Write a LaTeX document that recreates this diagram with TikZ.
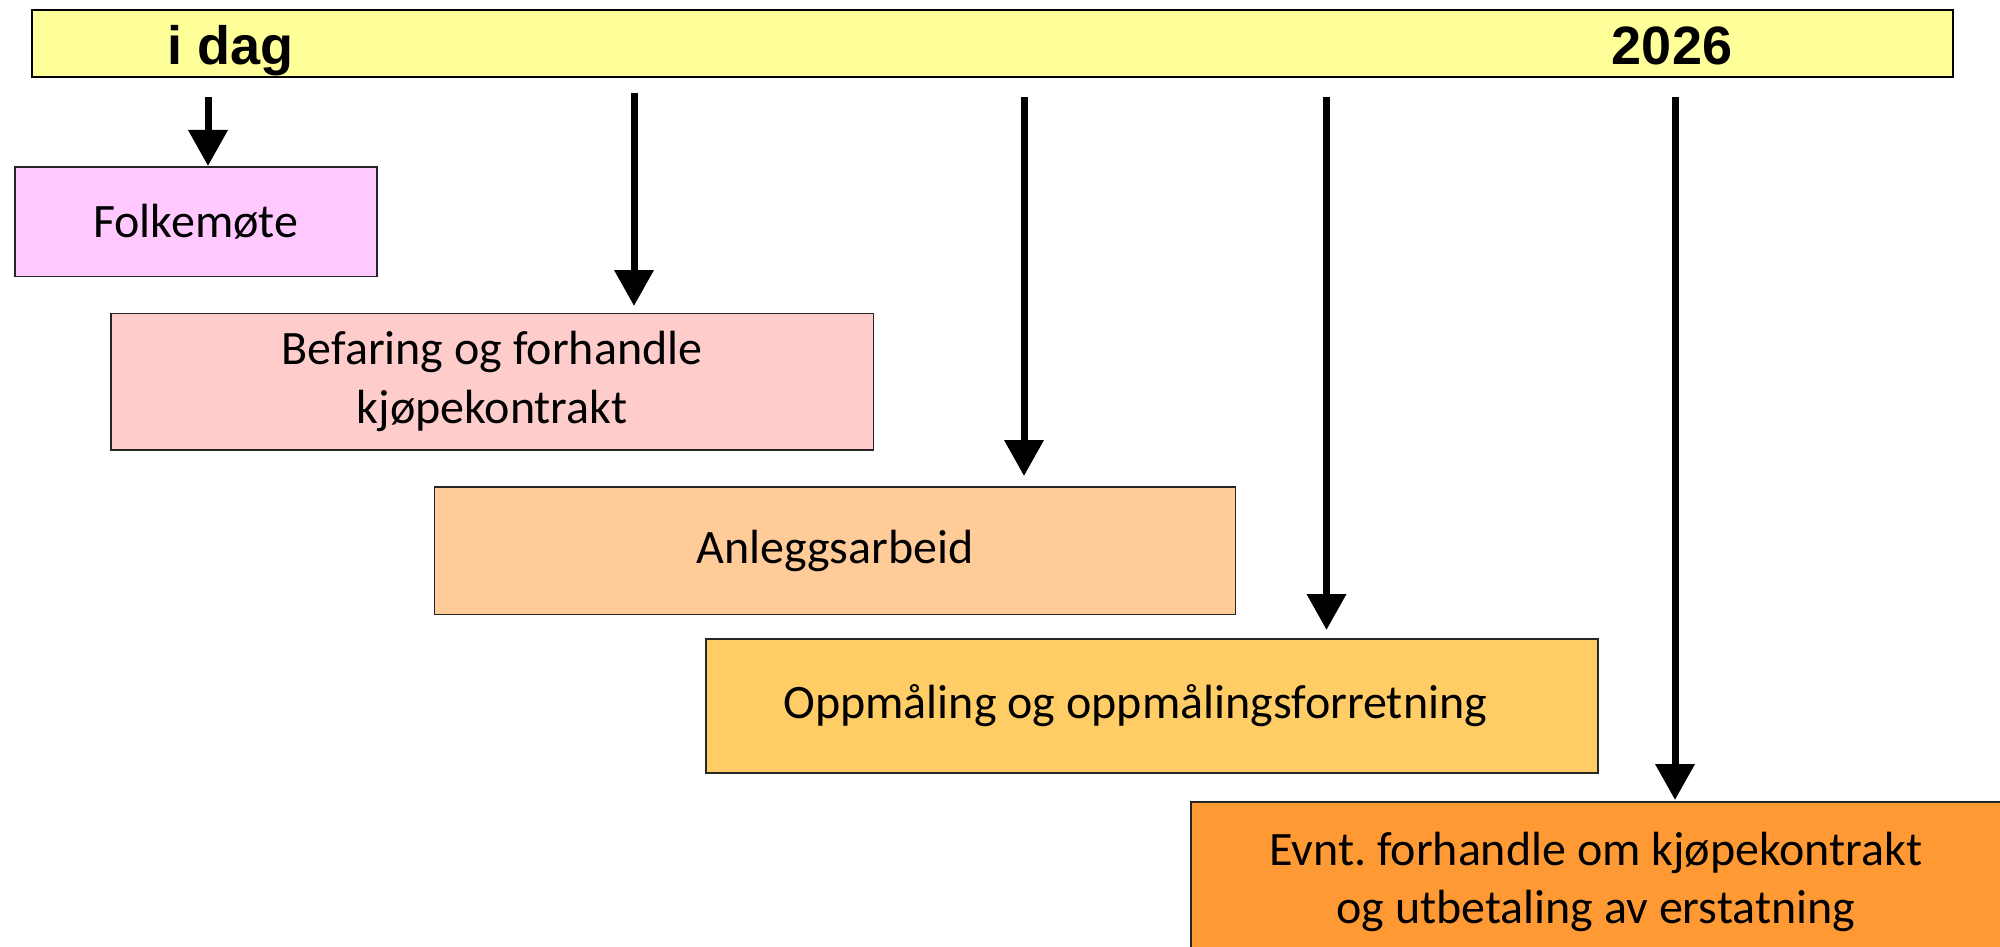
\documentclass[tikz,border=0pt]{standalone}
\usepackage{fontspec}
\setmainfont{Carlito}
\newfontfamily\barfont{Liberation Sans}
\usetikzlibrary{arrows.meta}
\definecolor{baryellow}{HTML}{FFFF99}
\definecolor{cfolk}{HTML}{FFC9FF}
\definecolor{cbef}{HTML}{FFCCCC}
\definecolor{canl}{HTML}{FFCC99}
\definecolor{copp}{HTML}{FFCC66}
\definecolor{cevnt}{HTML}{FF9933}
\frenchspacing
\begin{document}
\begin{tikzpicture}[x=1pt,y=-1pt,
  stagebox/.style={draw=black!85, line width=1.6pt, inner sep=0pt, anchor=north west,
    align=center, font=\fontsize{48}{58.5}\selectfont},
  bartext/.style={anchor=base, font=\barfont\bfseries\fontsize{54}{60}\selectfont},
  arr/.style={line width=7pt, -{Triangle[width=38pt,length=36pt]}}]
\useasboundingbox (0,0) rectangle (2000,947);
\clip (0,0) rectangle (2000,947);
\fill[white] (0,0) rectangle (2000,947);
% top bar
\node[draw=black, line width=2pt, fill=baryellow, inner sep=0pt, anchor=north west,
  minimum width=1921pt, minimum height=67.5pt] (bar) at (30.6,9) {};
\node[bartext] (idag) at (231,65) {i dag};
\node[bartext] (y2026) at (1672,65) {2026};
% stage boxes
\node[stagebox, fill=cfolk, minimum width=362pt, minimum height=109.5pt] (folk) at (14,166) {Folkemøte};
\node[stagebox, fill=cbef, minimum width=762.5pt, minimum height=136.5pt] (bef) at (110,312.5) {Befaring og forhandle\\kjøpekontrakt};
\node[stagebox, fill=canl, minimum width=801pt, minimum height=127.5pt] (anl) at (433.7,486) {Anleggsarbeid};
\node[stagebox, fill=copp, minimum width=892pt, minimum height=134pt] (opp) at (705,638) {Oppmåling og oppmålingsforretning\hspace*{33pt}};
\node[stagebox, fill=cevnt, minimum width=810pt, minimum height=160pt] (evnt) at (1190,801) {Evnt. forhandle om kjøpekontrakt\\og utbetaling av erstatning};
% arrow starts
\coordinate (a1) at (208,97);
\coordinate (a2) at (634,93);
\coordinate (a3) at (1024,97);
\coordinate (a4) at (1326.5,97);
\coordinate (a5) at (1675,97);
\draw[arr] (a1) -- (a1 |- folk.north);
\draw[arr, shorten >=6.5pt] (a2) -- (a2 |- bef.north);
\draw[arr, shorten >=10pt] (a3) -- (a3 |- anl.north);
\draw[arr, shorten >=8pt] (a4) -- (a4 |- opp.north);
\draw[arr, shorten >=1pt] (a5) -- (a5 |- evnt.north);
\end{tikzpicture}
\end{document}
